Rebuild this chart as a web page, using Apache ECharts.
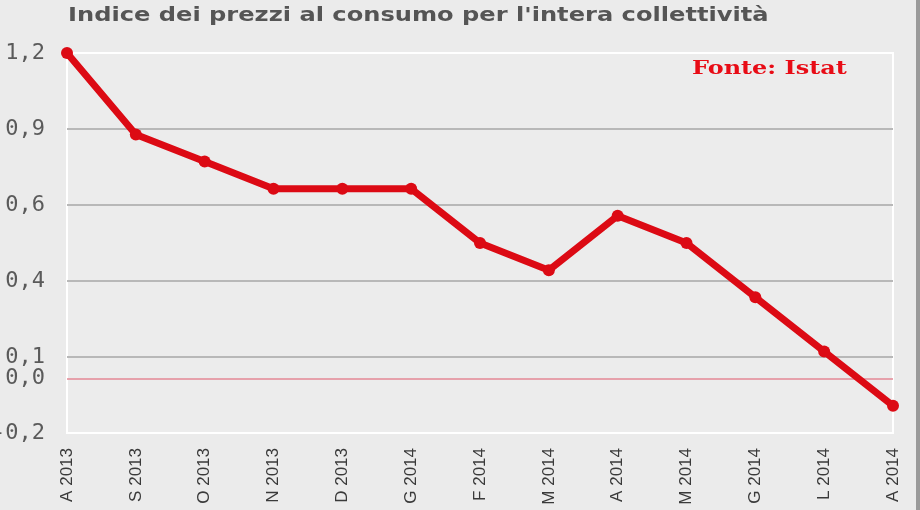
<!DOCTYPE html>
<html>
<head>
<meta charset="utf-8">
<script src="https://cdn.jsdelivr.net/npm/echarts@6/dist/echarts.min.js"></script>
<style>
  html, body { margin: 0; padding: 0; background: #ebebeb; }
  #chart { width: 920px; height: 510px; }
</style>
</head>
<body>
<div id="chart"></div>
<script>
const titleText = "Indice dei prezzi al consumo per l'intera collettività";
const sourceText = "Fonte: Istat";
const categories = ["A 2013", "S 2013", "O 2013", "N 2013", "D 2013", "G 2014", "F 2014", "M 2014", "A 2014", "M 2014", "G 2014", "L 2014", "A 2014"];
const values = [1.2, 0.9, 0.8, 0.7, 0.7, 0.7, 0.5, 0.4, 0.6, 0.5, 0.3, 0.1, -0.1];
const yMin = -0.2;
const yMax = 1.2;
const yInterval = 0.28;
const zeroLineValue = 0;
const zeroLineLabel = "0,0";

const fmt = v => (Math.round(v * 10) / 10).toFixed(1).replace('.', ',');

const chart = echarts.init(document.getElementById('chart'));
chart.setOption({
  backgroundColor: '#ebebeb',
  animation: false,
  graphic: [
    {
      type: 'text', x: 68, y: 7, scaleX: 1.27,
      style: {
        text: titleText, font: 'bold 19px "DejaVu Sans"', fill: '#555555',
        textVerticalAlign: 'top'
      }
    },
    {
      type: 'text', x: 692, y: 60, scaleX: 1.26,
      style: {
        text: sourceText, font: 'bold 19px "DejaVu Serif"', fill: '#e80c16',
        textVerticalAlign: 'top'
      }
    },
    {
      type: 'rect', shape: { x: 916, y: 0, width: 4, height: 510 },
      style: { fill: '#9a9a9a' }
    }
  ],
  grid: {
    left: 67, right: 27, top: 53, bottom: 77,
    containLabel: false, outerBoundsMode: 'none',
    show: true, backgroundColor: '#ececec', borderColor: '#ffffff', borderWidth: 2
  },
  xAxis: {
    type: 'category',
    data: categories,
    boundaryGap: false,
    axisLine: { show: false },
    axisTick: { show: false },
    axisLabel: {
      rotate: 90, margin: 15, interval: 0,
      fontFamily: 'Liberation Sans', fontSize: 17, color: '#3a3a3a'
    },
    splitLine: { show: false }
  },
  yAxis: {
    type: 'value',
    min: yMin, max: yMax, interval: yInterval,
    axisLine: { show: false },
    axisTick: { show: false },
    axisLabel: {
      margin: 22, formatter: fmt,
      fontFamily: 'DejaVu Sans Mono', fontSize: 22, color: '#5a5a5a'
    },
    splitLine: { show: true, showMinLine: false, showMaxLine: false, lineStyle: { color: '#b8b8b8', width: 2 } }
  },
  series: [{
    type: 'line',
    data: values,
    color: '#dc0a14',
    lineStyle: { width: 7, color: '#dc0a14' },
    symbol: 'circle',
    symbolSize: 12,
    itemStyle: { color: '#dc0a14' },
    z: 5,
    markLine: {
      silent: true,
      symbol: 'none',
      data: [{ yAxis: zeroLineValue }],
      lineStyle: { color: '#e48896', width: 1.5, type: 'solid' },
      label: {
        position: 'start', distance: 22, formatter: zeroLineLabel,
        fontFamily: 'DejaVu Sans Mono', fontSize: 22, color: '#5a5a5a'
      }
    }
  }]
});
</script>
</body>
</html>
